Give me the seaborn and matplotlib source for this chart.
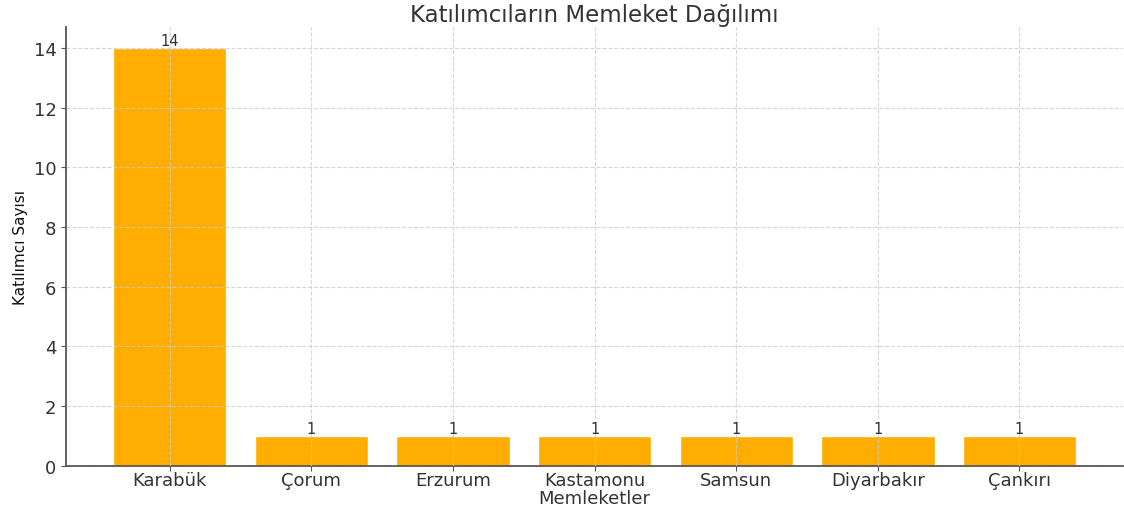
import matplotlib
matplotlib.use("Agg")
import matplotlib.pyplot as plt
import seaborn as sns
import pandas as pd

memleketler = ['Karabük', 'Çorum', 'Erzurum', 'Kastamonu', 'Samsun', 'Diyarbakır', 'Çankırı']
sayilar = [14, 1, 1, 1, 1, 1, 1]

df = pd.DataFrame({'Memleketler': memleketler, 'Sayı': sayilar})

sns.set_style('ticks')
plt.rcParams['font.family'] = ['DejaVu Sans']
text_color = '#333333'

fig = plt.figure(figsize=(11.24, 5.1), dpi=100)
ax = fig.add_axes([0.059, 0.085, 0.94, 0.86])

sns.barplot(data=df, x='Memleketler', y='Sayı', color='#ffae00',
            saturation=1, width=0.8, ax=ax)
ax.bar_label(ax.containers[0], fontsize=10.5, color=text_color, padding=0)

ax.set_xlim(-0.73, 6.73)
ax.set_ylim(0, 14.7)
ax.set_yticks(range(0, 15, 2))

ax.grid(True, linestyle='--', color='#cccccc', linewidth=0.8, alpha=0.8)
ax.set_axisbelow(False)
sns.despine(ax=ax)
for s in ['left', 'bottom']:
    ax.spines[s].set_color('#555555')
    ax.spines[s].set_linewidth(1.3)

ax.tick_params(axis='both', colors='#555555', labelcolor=text_color, labelsize=13)
ax.tick_params(axis='x', pad=0.5)
ax.set_title('Katılımcıların Memleket Dağılımı', fontsize=16.5, color=text_color, pad=4)
ax.set_xlabel('Memleketler', fontsize=13, color=text_color, labelpad=0)
ax.set_ylabel('Katılımcı Sayısı', fontsize=11, color='#111111', labelpad=4)

fig.savefig('out.png', dpi=100)
